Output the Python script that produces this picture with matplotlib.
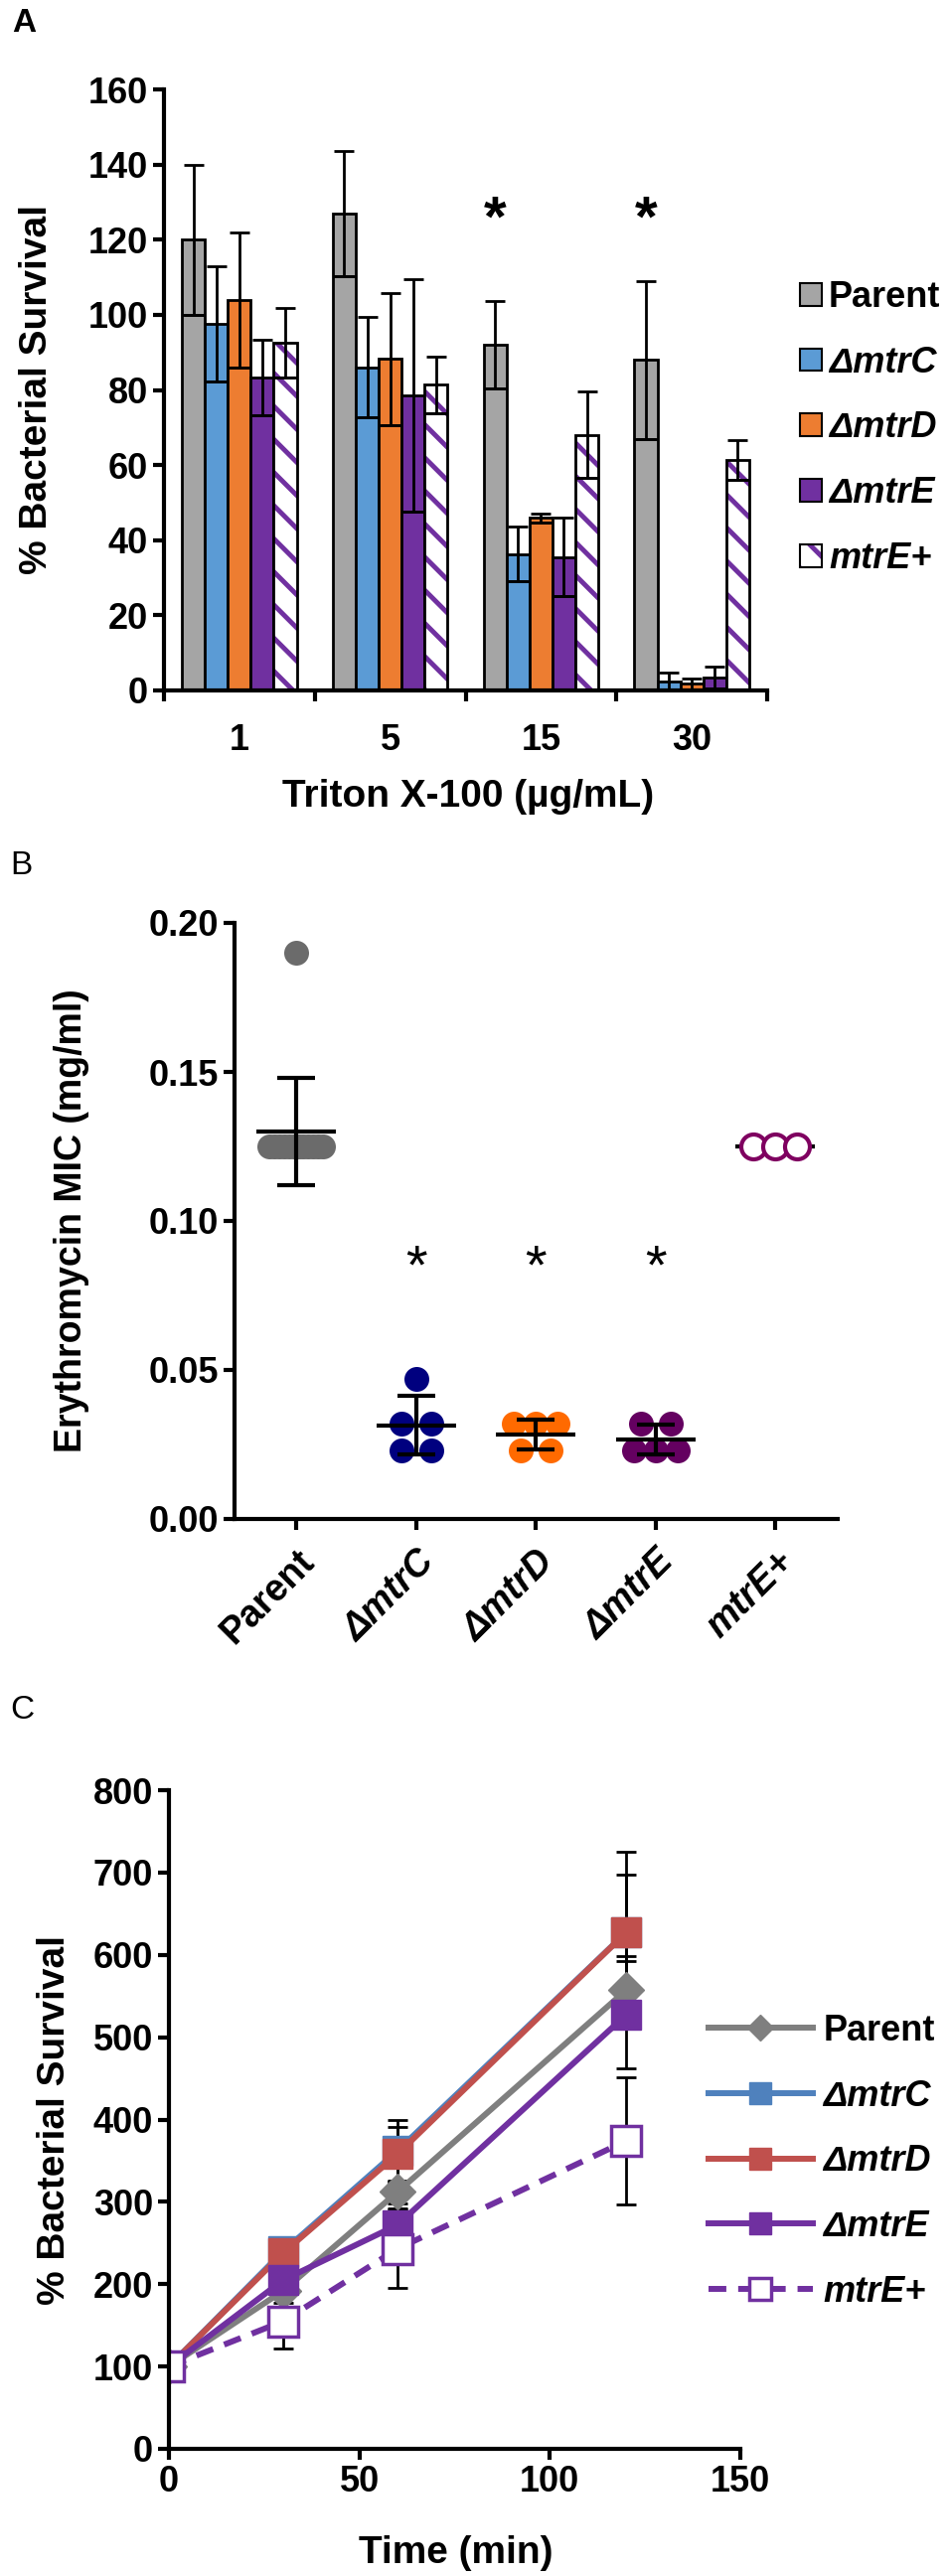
import numpy as np
import matplotlib
matplotlib.use('Agg')
import matplotlib.pyplot as plt
from matplotlib.lines import Line2D
from matplotlib.patches import Patch
from matplotlib.font_manager import FontProperties

plt.rcParams['font.family'] = ['Liberation Sans', 'DejaVu Sans']
plt.rcParams['hatch.linewidth'] = 3.5

# ---------------- Panel A data ----------------
conc_labels = ['1', '5', '15', '30']
strain_labels = ['Parent', 'ΔmtrC', 'ΔmtrD', 'ΔmtrE', 'mtrE+']
triton_parent = [120, 127, 92, 88]
triton_mtrC = [97.6, 86, 36.3, 2.5]
triton_mtrD = [104, 88.2, 46, 1.8]
triton_mtrE = [83.3, 78.5, 35.5, 3.4]
triton_mtrEplus = [92.5, 81.4, 68, 61.3]
triton_parent_err = [20, 16.6, 11.7, 21]
triton_mtrC_err = [15.4, 13.4, 7.3, 2.3]
triton_mtrD_err = [18, 17.6, 1.2, 1.5]
triton_mtrE_err = [10, 31, 10.5, 3]
triton_mtrEplus_err = [9.3, 7.5, 11.5, 5.3]
star_groups_A = [2, 3]
star_level_A = 125

# ---------------- Panel B data ----------------
mic_labels = ['Parent', 'ΔmtrC', 'ΔmtrD', 'ΔmtrE', 'mtrE+']
mic_parent = [0.19, 0.125, 0.125, 0.125, 0.125, 0.125, 0.125,
              0.125, 0.125, 0.125, 0.125, 0.125, 0.125]
mic_mtrC = [0.047, 0.032, 0.032, 0.023, 0.023]
mic_mtrD = [0.032, 0.032, 0.032, 0.023, 0.023]
mic_mtrE = [0.032, 0.032, 0.023, 0.023, 0.023]
mic_mtrEplus = [0.125, 0.125, 0.125]
star_groups_B = [1, 2, 3]
star_level_B = 0.084

# ---------------- Panel C data ----------------
time_min = [0, 30, 60, 120]
surv_parent = [100, 192, 312, 557]
surv_mtrC = [100, 240, 362, 627]
surv_mtrD = [100, 238, 358, 627]
surv_mtrE = [100, 205, 272, 527]
surv_mtrEplus = [100, 155, 243, 374]
surv_parent_err = [0, 15, 14, 41]
surv_mtrC_err = [0, 15, 38, 98]
surv_mtrD_err = [0, 15, 33, 70]
surv_mtrE_err = [0, 15, 20, 65]
surv_mtrEplus_err = [0, 33, 48, 77]

W, H = 955, 2593
fig = plt.figure(figsize=(W / 100, H / 100), dpi=100)


def ax_at(l, t, r, b):
    return fig.add_axes([l / W, 1 - b / H, (r - l) / W, (b - t) / H])


def style_axis(ax):
    for s in ['top', 'right']:
        ax.spines[s].set_visible(False)
    for s in ['left', 'bottom']:
        ax.spines[s].set_linewidth(3)
    ax.tick_params(axis='both', which='major', direction='out', length=8, width=3,
                   labelsize=26)


bold_fp = FontProperties(family=['Liberation Sans', 'DejaVu Sans'], weight='bold', size=26)

# ===================== Panel A =====================
axA = ax_at(165, 90, 772, 695)
style_axis(axA)
colorsA = ['#A5A5A5', '#5B9BD5', '#ED7D31', '#7030A0']
purple = '#7030A0'
seriesA = [(triton_parent, triton_parent_err), (triton_mtrC, triton_mtrC_err),
           (triton_mtrD, triton_mtrD_err), (triton_mtrE, triton_mtrE_err),
           (triton_mtrEplus, triton_mtrEplus_err)]
bw = 0.152
xg = np.arange(len(conc_labels))
for i, (vals, errs) in enumerate(seriesA):
    vals = np.array(vals, float)
    errs = np.array(errs, float)
    xs = xg + (i - 2) * bw
    if i < 4:
        axA.bar(xs, vals, bw, color=colorsA[i], edgecolor='black', linewidth=2, zorder=2)
    else:
        axA.bar(xs, vals, bw, color='white', edgecolor=purple, hatch='\\', linewidth=0, zorder=2)
        axA.bar(xs, vals, bw, fill=False, edgecolor='black', linewidth=2, zorder=2.1)
    axA.errorbar(xs, vals, yerr=errs, fmt='none', ecolor='black', elinewidth=2,
                 capsize=7, capthick=2, zorder=3)
    axA.hlines(vals - errs, xs - bw / 2, xs + bw / 2, color='black', lw=2, zorder=3)

for g in star_groups_A:
    axA.text(xg[g] - 2 * bw, star_level_A, '*', ha='center', va='center',
             fontsize=42, fontweight='bold')

axA.set_xlim(-0.5, len(conc_labels) - 0.5)
axA.set_ylim(0, 160)
axA.set_yticks(np.arange(0, 161, 20))
axA.set_xticks(np.arange(-0.5, len(conc_labels), 1.0))
axA.set_xticklabels([])
axA.set_xticks(xg, minor=True)
axA.set_xticklabels(conc_labels, minor=True)
axA.tick_params(axis='x', which='minor', length=0, pad=24, labelsize=26)
for lab in axA.get_xticklabels(minor=True) + axA.get_yticklabels():
    lab.set_fontweight('bold')
axA.set_xlabel('Triton X-100 (µg/mL)', fontsize=28, fontweight='bold')
axA.xaxis.label.set_va('center')
axA.xaxis.set_label_coords(0.504, -0.177)
axA.set_ylabel('% Bacterial Survival', fontsize=28, fontweight='bold')
axA.yaxis.label.set_va('center')
axA.yaxis.set_label_coords(-0.211, 0.5)

handlesA = [Patch(facecolor=c, edgecolor='black', lw=1.5) for c in colorsA]
handlesA.append((Patch(facecolor='white', edgecolor=purple, hatch='\\', lw=0),
                 Patch(fill=False, edgecolor='black', lw=1.5)))
legA = fig.legend(handlesA, strain_labels, loc='upper left',
                  bbox_to_anchor=(805 / W, 1 - 282 / H), frameon=False, prop=bold_fp,
                  handlelength=0.6, handleheight=0.6, handletextpad=0.2,
                  labelspacing=0.85, borderpad=0, borderaxespad=0)
for t in legA.get_texts()[1:]:
    t.set_fontstyle('italic')

fig.text(12 / W, 1 - 8 / H, 'A', fontsize=24, fontweight='bold', va='top', ha='left')

# ===================== Panel B =====================
axB = ax_at(236, 929, 843, 1529)
style_axis(axB)
mic_sets = [mic_parent, mic_mtrC, mic_mtrD, mic_mtrE, mic_mtrEplus]
mic_colors = ['#6B6B6B', '#00007F', '#FF6A00', '#640060', '#7F0060']
px = 1 / 120.5
for i, vals in enumerate(mic_sets):
    vals = np.array(vals, float)
    xs = np.zeros(len(vals))
    for v in np.unique(vals):
        idx = np.where(vals == v)[0]
        k = len(idx)
        sp = {1: 0, 2: 30, 3: 22}.get(k, 54 / max(k - 1, 1))
        xs[idx] = i + (np.arange(k) - (k - 1) / 2) * sp * px
    filled = i < 4
    axB.plot(xs, vals, 'o', ms=18, ls='none',
             mfc=mic_colors[i] if filled else 'white', mec=mic_colors[i],
             mew=0 if filled else 3, zorder=3)
    m = vals.mean()
    s = vals.std(ddof=1)
    axB.hlines(m, i - 40 * px, i + 40 * px, color='black', lw=3, zorder=4 if filled else 2)
    if s > 0:
        axB.errorbar([i], [m], yerr=[s], fmt='none', ecolor='black', elinewidth=3,
                     capsize=14, capthick=3, zorder=4)
for g in star_groups_B:
    axB.text(g, star_level_B, '*', ha='center', va='center', fontsize=40)

axB.set_xlim(-0.515, 4.52)
axB.set_ylim(0, 0.2)
axB.set_yticks([0, 0.05, 0.10, 0.15, 0.20])
axB.set_yticklabels(['0.00', '0.05', '0.10', '0.15', '0.20'])
axB.set_xticks(np.arange(len(mic_labels)))
axB.set_xticklabels(mic_labels, rotation=45, ha='right', va='top', rotation_mode='anchor')
axB.tick_params(axis='x', pad=10)
for j, lab in enumerate(axB.get_xticklabels()):
    lab.set_fontweight('bold')
    lab.set_fontsize(27)
    if j > 0:
        lab.set_fontstyle('italic')
for lab in axB.get_yticklabels():
    lab.set_fontweight('bold')
axB.set_ylabel('Erythromycin MIC (mg/ml)', fontsize=27, fontweight='bold')
axB.yaxis.label.set_va('center')
axB.yaxis.set_label_coords(-0.27, 0.5)

fig.text(10 / W, 1 - 856 / H, 'B', fontsize=24, va='top', ha='left')

# ===================== Panel C =====================
axC = ax_at(170, 1802, 745, 2465)
style_axis(axC)
seriesC = [(surv_parent, surv_parent_err), (surv_mtrC, surv_mtrC_err),
           (surv_mtrD, surv_mtrD_err), (surv_mtrE, surv_mtrE_err),
           (surv_mtrEplus, surv_mtrEplus_err)]
c_colors = ['#7F7F7F', '#4F81BD', '#C0504D', '#7030A0', '#7030A0']
c_markers = ['D', 's', 's', 's', 's']
c_ms = [18, 22, 22, 22, 22]
c_ls = ['-', '-', '-', '-', (0, (3, 2))]
handlesC = []
for i, (vals, errs) in enumerate(seriesC):
    axC.errorbar(time_min, vals, yerr=errs, fmt='none', ecolor='black', elinewidth=2,
                 capsize=7, capthick=2, zorder=1)
for i, (vals, errs) in enumerate(seriesC):
    open_m = (i == 4)
    ln, = axC.plot(time_min, vals, color=c_colors[i], lw=4.3, ls=c_ls[i],
                   marker=c_markers[i], ms=c_ms[i],
                   mfc='white' if open_m else c_colors[i], mec=c_colors[i],
                   mew=2.5 if open_m else 1, zorder=2 + i * 0.1)
    handlesC.append(ln)
axC.set_xlim(0, 150)
axC.set_ylim(0, 800)
axC.set_xticks([0, 50, 100, 150])
axC.set_yticks(np.arange(0, 801, 100))
for lab in axC.get_xticklabels() + axC.get_yticklabels():
    lab.set_fontweight('bold')
axC.set_xlabel('Time (min)', fontsize=28, fontweight='bold')
axC.xaxis.label.set_va('center')
axC.xaxis.set_label_coords(0.503, -0.158)
axC.set_ylabel('% Bacterial Survival', fontsize=28, fontweight='bold')
axC.yaxis.label.set_va('center')
axC.yaxis.set_label_coords(-0.2, 0.5)

legC = fig.legend(handlesC, strain_labels, loc='upper left',
                  bbox_to_anchor=(713 / W, 1 - 2027 / H), frameon=False, prop=bold_fp,
                  handlelength=2.9, handletextpad=0.3, labelspacing=0.85,
                  borderpad=0, borderaxespad=0, markerscale=0.75)
for t in legC.get_texts()[1:]:
    t.set_fontstyle('italic')

fig.text(10 / W, 1 - 1706 / H, 'C', fontsize=24, va='top', ha='left')

fig.savefig('out.png', dpi=100, facecolor='white')
